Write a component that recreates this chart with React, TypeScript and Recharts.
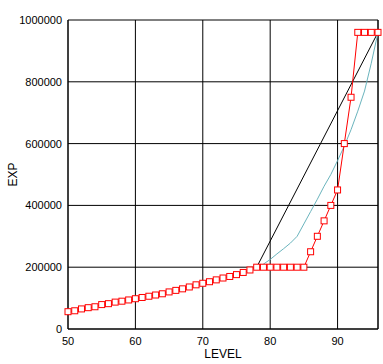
import { CartesianGrid, Label, Line, LineChart, ReferenceLine, XAxis, YAxis } from "recharts";

const levels = [
  50, 51, 52, 53, 54, 55, 56, 57, 58, 59, 60, 61, 62, 63, 64, 65, 66, 67, 68, 69, 70, 71, 72, 73,
  74, 75, 76, 77, 78, 79, 80, 81, 82, 83, 84, 85, 86, 87, 88, 89, 90, 91, 92, 93, 94, 95, 96,
];

const expTable = [
  56000, 59000, 65000, 69000, 72000, 79000, 82000, 87000, 90000, 94000, 98000, 102000, 106000,
  110000, 114000, 120000, 125000, 130000, 136000, 143000, 148000, 153000, 159000, 165000, 170000,
  176000, 183000, 191000, 200000, 200000, 200000, 200000, 200000, 200000, 200000, 200000, 250000,
  300000, 350000, 400000, 450000, 600000, 750000, 960000, 960000, 960000, 960000,
];

const curveLevels = [78, 79, 80, 81, 82, 83, 84, 85, 86, 87, 88, 89, 90, 91, 92, 93, 94, 95, 96];
const curveExp = [
  200000, 210000, 225000, 243000, 260000, 278000, 300000, 340000, 380000, 420000, 462000, 500000,
  545000, 592000, 645000, 705000, 770000, 860000, 960000,
];

const straightLevels = [78, 96];
const straightExp = [200000, 960000];

const xTicks = [50, 60, 70, 80, 90];
const yTicks = [0, 200000, 400000, 600000, 800000, 1000000];

const tableData = levels.map((level, i) => ({ level, exp: expTable[i] }));
const curveData = curveLevels.map((level, i) => ({ level, exp: curveExp[i] }));
const straightData = straightLevels.map((level, i) => ({ level, exp: straightExp[i] }));

const font = { fontFamily: "'Liberation Sans', Arial, sans-serif", fontSize: 11, fill: "#000" };

const SquareDot = (props: any) => {
  const { cx, cy, index } = props;
  if (cx == null || cy == null) return null;
  return (
    <rect
      key={`dot-${index}`}
      x={cx - 3}
      y={cy - 3}
      width={6}
      height={6}
      fill="#fff"
      stroke="#ff0000"
      strokeWidth={1}
    />
  );
};

export default function App() {
  return (
    <div>
      <style>{`body{margin:0}`}</style>
      <LineChart width={383} height={364} margin={{ top: 20, right: 5, bottom: 0, left: 0 }}>
        <CartesianGrid stroke="#000" strokeOpacity={1} />
        <XAxis
          dataKey="level"
          type="number"
          domain={[50, 96]}
          ticks={xTicks}
          allowDuplicatedCategory={false}
          height={35}
          tickLine={false}
          axisLine={{ stroke: "#000" }}
          tick={font}
        >
          <Label
            value="LEVEL"
            position="insideBottom"
            offset={6}
            style={{ ...font, fontSize: 12 }}
          />
        </XAxis>
        <YAxis
          dataKey="exp"
          type="number"
          domain={[0, 1000000]}
          ticks={yTicks}
          width={68}
          tickLine={false}
          tickMargin={0}
          axisLine={{ stroke: "#000" }}
          tick={font}
        >
          <Label
            content={() => (
              <text
                x={14}
                y={174.5}
                transform="rotate(-90, 14, 174.5)"
                textAnchor="middle"
                dominantBaseline="middle"
                style={{ ...font, fontSize: 12 }}
              >
                EXP
              </text>
            )}
          />
        </YAxis>
        <ReferenceLine x={96} stroke="#000" />
        <Line
          data={straightData}
          dataKey="exp"
          stroke="#000"
          strokeWidth={1}
          dot={false}
          activeDot={false}
          isAnimationActive={false}
        />
        <Line
          data={curveData}
          dataKey="exp"
          stroke="#6ab4bd"
          strokeWidth={1}
          dot={false}
          activeDot={false}
          isAnimationActive={false}
        />
        <Line
          data={tableData}
          dataKey="exp"
          stroke="#ff0000"
          strokeWidth={1}
          dot={<SquareDot />}
          activeDot={false}
          isAnimationActive={false}
        />
      </LineChart>
    </div>
  );
}
